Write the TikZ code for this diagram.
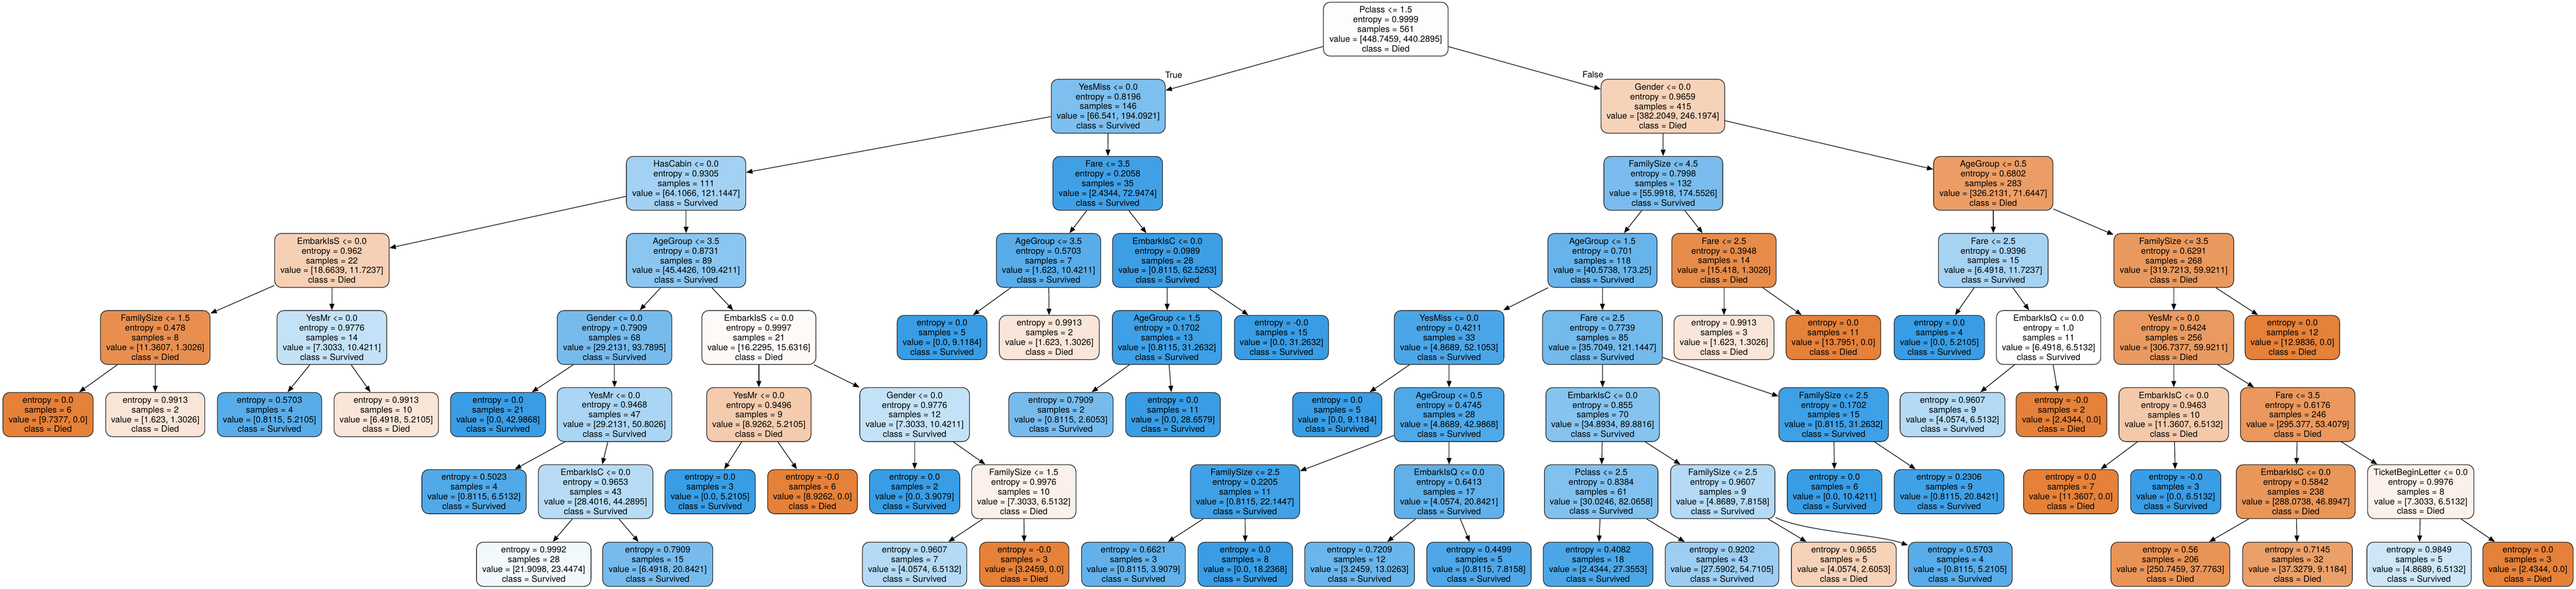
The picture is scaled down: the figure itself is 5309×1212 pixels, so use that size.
\documentclass[tikz,border=0pt]{standalone}
\usepackage{fontspec}
\setmainfont{TeX Gyre Heros}
\usetikzlibrary{arrows.meta}
\definecolor{died}{RGB}{229,129,57}
\definecolor{surv}{RGB}{57,157,229}
\newcommand\treefont{\fontsize{17.9}{20}\selectfont}
\newcommand\itxt[6]{#1\\entropy = #2\\samples = #3\\value = [#4, #5]\\class = #6}
\newcommand\ltxt[5]{entropy = #1\\samples = #2\\value = [#3, #4]\\class = #5}
\tikzset{
  tbox/.style={draw=black!85, line width=1.4pt, rounded corners=14pt, align=center, inner sep=0pt, font=\treefont, minimum height=111pt},
  lbox/.style={tbox, minimum height=91pt},
  conn/.style={-{Triangle[length=13pt,width=10pt]}, line width=1.3pt},
  elabel/.style={font=\treefont, inner sep=0pt},
}
\begin{document}
\begin{tikzpicture}[x=1pt,y=-1pt]
\useasboundingbox (0,0) rectangle (5309,1212);
\fill[white] (0,0) rectangle (5309,1212);
% row 0
\node[tbox, minimum width=257pt, fill=died!1.9] (n0) at (2856,60) {\itxt{Pclass <= 1.5}{0.9999}{561}{448.7459}{440.2895}{Died}};
% row 1
\node[tbox, minimum width=235pt, fill=surv!65.7] (n1) at (2284,218.7) {\itxt{YesMiss <= 0.0}{0.8196}{146}{66.541}{194.0921}{Survived}};
\node[tbox, minimum width=255pt, fill=died!35.6] (n2) at (3427,218.7) {\itxt{Gender <= 0.0}{0.9659}{415}{382.2049}{246.1974}{Died}};
% row 2
\node[tbox, minimum width=246pt, fill=surv!47.1] (n3) at (1414,377.4) {\itxt{HasCabin <= 0.0}{0.9305}{111}{64.1066}{121.1447}{Survived}};
\node[tbox, minimum width=226pt, fill=surv!96.7] (n4) at (2283,377.4) {\itxt{Fare <= 3.5}{0.2058}{35}{2.4344}{72.9474}{Survived}};
\node[tbox, minimum width=245pt, fill=surv!67.9] (n5) at (3428,377.4) {\itxt{FamilySize <= 4.5}{0.7998}{132}{55.9918}{174.5526}{Survived}};
\node[tbox, minimum width=246pt, fill=died!78.0] (n6) at (4108,377.4) {\itxt{AgeGroup <= 0.5}{0.6802}{283}{326.2131}{71.6447}{Died}};
% row 3
\node[tbox, minimum width=236pt, fill=died!37.2] (n7) at (684,536.1) {\itxt{EmbarkIsS <= 0.0}{0.962}{22}{18.6639}{11.7237}{Died}};
\node[tbox, minimum width=246pt, fill=surv!58.5] (n8) at (1414,536.1) {\itxt{AgeGroup <= 3.5}{0.8731}{89}{45.4426}{109.4211}{Survived}};
\node[tbox, minimum width=215pt, fill=surv!84.4] (n9) at (2161,536.1) {\itxt{AgeGroup <= 3.5}{0.5703}{7}{1.623}{10.4211}{Survived}};
\node[tbox, minimum width=226pt, fill=surv!98.7] (n10) at (2406,536.1) {\itxt{EmbarkIsC <= 0.0}{0.0989}{28}{0.8115}{62.5263}{Survived}};
\node[tbox, minimum width=225pt, fill=surv!76.6] (n11) at (3302.5,536.1) {\itxt{AgeGroup <= 1.5}{0.701}{118}{40.5738}{173.25}{Survived}};
\node[tbox, minimum width=215pt, fill=died!91.6] (n12) at (3553,536.1) {\itxt{Fare <= 2.5}{0.3948}{14}{15.418}{1.3026}{Died}};
\node[tbox, minimum width=226pt, fill=surv!44.6] (n13) at (4108,536.1) {\itxt{Fare <= 2.5}{0.9396}{15}{6.4918}{11.7237}{Survived}};
\node[tbox, minimum width=247pt, fill=died!81.3] (n14) at (4480,536.1) {\itxt{FamilySize <= 3.5}{0.6291}{268}{319.7213}{59.9211}{Died}};
% row 4
\node[tbox, minimum width=226pt, fill=died!88.5] (n15) at (320,694.8) {\itxt{FamilySize <= 1.5}{0.478}{8}{11.3607}{1.3026}{Died}};
\node[tbox, minimum width=226pt, fill=surv!29.9] (n16) at (684,694.8) {\itxt{YesMr <= 0.0}{0.9776}{14}{7.3033}{10.4211}{Survived}};
\node[tbox, minimum width=236pt, fill=surv!68.9] (n17) at (1266.5,694.8) {\itxt{Gender <= 0.0}{0.7909}{68}{29.2131}{93.7895}{Survived}};
\node[tbox, minimum width=235pt, fill=died!3.7] (n18) at (1564,694.8) {\itxt{EmbarkIsS <= 0.0}{0.9997}{21}{16.2295}{15.6316}{Died}};
\node[lbox, minimum width=185pt, fill=surv] (n19) at (1941.5,694.8) {\ltxt{0.0}{5}{0.0}{9.1184}{Survived}};
\node[lbox, minimum width=206pt, fill=died!19.7] (n20) at (2162.5,694.8) {\ltxt{0.9913}{2}{1.623}{1.3026}{Died}};
\node[tbox, minimum width=225pt, fill=surv!97.4] (n21) at (2405,694.8) {\itxt{AgeGroup <= 1.5}{0.1702}{13}{0.8115}{31.2632}{Survived}};
\node[lbox, minimum width=194pt, fill=surv] (n22) at (2641,694.8) {\ltxt{-0.0}{15}{0.0}{31.2632}{Survived}};
\node[tbox, minimum width=226pt, fill=surv!90.7] (n23) at (2986.5,694.8) {\itxt{YesMiss <= 0.0}{0.4211}{33}{4.8689}{52.1053}{Survived}};
\node[tbox, minimum width=247pt, fill=surv!70.5] (n24) at (3302.5,694.8) {\itxt{Fare <= 2.5}{0.7739}{85}{35.7049}{121.1447}{Survived}};
\node[lbox, minimum width=206pt, fill=died!19.7] (n25) at (3553,694.8) {\ltxt{0.9913}{3}{1.623}{1.3026}{Died}};
\node[lbox, minimum width=195pt, fill=died] (n26) at (3778.5,694.8) {\ltxt{0.0}{11}{13.7951}{0.0}{Died}};
\node[lbox, minimum width=186pt, fill=surv] (n27) at (3997,694.8) {\ltxt{0.0}{4}{0.0}{5.2105}{Survived}};
\node[tbox, minimum width=215pt, fill=surv!0.3] (n28) at (4222,694.8) {\itxt{EmbarkIsQ <= 0.0}{1.0}{11}{6.4918}{6.5132}{Survived}};
\node[tbox, minimum width=247pt, fill=died!80.5] (n29) at (4480,694.8) {\itxt{YesMr <= 0.0}{0.6424}{256}{306.7377}{59.9211}{Died}};
\node[lbox, minimum width=195pt, fill=died] (n30) at (4724.5,694.8) {\ltxt{0.0}{12}{12.9836}{0.0}{Died}};
% row 5
\node[lbox, minimum width=186pt, fill=died] (n31) at (99,853.5) {\ltxt{0.0}{6}{9.7377}{0.0}{Died}};
\node[lbox, minimum width=204pt, fill=died!19.7] (n32) at (320,853.5) {\ltxt{0.9913}{2}{1.623}{1.3026}{Died}};
\node[lbox, minimum width=215pt, fill=surv!84.4] (n33) at (555.5,853.5) {\ltxt{0.5703}{4}{0.8115}{5.2105}{Survived}};
\node[lbox, minimum width=215pt, fill=died!19.7] (n34) at (796,853.5) {\ltxt{0.9913}{10}{6.4918}{5.2105}{Died}};
\node[lbox, minimum width=196pt, fill=surv] (n35) at (1026.5,853.5) {\ltxt{0.0}{21}{0.0}{42.9868}{Survived}};
\node[tbox, minimum width=236pt, fill=surv!42.5] (n36) at (1266.5,853.5) {\itxt{YesMr <= 0.0}{0.9468}{47}{29.2131}{50.8026}{Survived}};
\node[tbox, minimum width=215pt, fill=died!41.6] (n37) at (1564,853.5) {\itxt{YesMr <= 0.0}{0.9496}{9}{8.9262}{5.2105}{Died}};
\node[tbox, minimum width=226pt, fill=surv!29.9] (n38) at (1885,853.5) {\itxt{Gender <= 0.0}{0.9776}{12}{7.3033}{10.4211}{Survived}};
\node[lbox, minimum width=215pt, fill=surv!68.9] (n39) at (2186.5,853.5) {\ltxt{0.7909}{2}{0.8115}{2.6053}{Survived}};
\node[lbox, minimum width=195pt, fill=surv] (n40) at (2417.5,853.5) {\ltxt{0.0}{11}{0.0}{28.6579}{Survived}};
\node[lbox, minimum width=184pt, fill=surv] (n41) at (2756,853.5) {\ltxt{0.0}{5}{0.0}{9.1184}{Survived}};
\node[tbox, minimum width=226pt, fill=surv!88.7] (n42) at (2986.5,853.5) {\itxt{AgeGroup <= 0.5}{0.4745}{28}{4.8689}{42.9868}{Survived}};
\node[tbox, minimum width=234pt, fill=surv!61.2] (n43) at (3303,853.5) {\itxt{EmbarkIsC <= 0.0}{0.855}{70}{34.8934}{89.8816}{Survived}};
\node[tbox, minimum width=226pt, fill=surv!97.4] (n44) at (3779,853.5) {\itxt{FamilySize <= 2.5}{0.1702}{15}{0.8115}{31.2632}{Survived}};
\node[lbox, minimum width=216pt, fill=surv!37.7] (n45) at (4024,853.5) {\ltxt{0.9607}{9}{4.0574}{6.5132}{Survived}};
\node[lbox, minimum width=187pt, fill=died] (n46) at (4248.5,853.5) {\ltxt{-0.0}{2}{2.4344}{0.0}{Died}};
\node[tbox, minimum width=226pt, fill=died!42.7] (n47) at (4480,853.5) {\itxt{EmbarkIsC <= 0.0}{0.9463}{10}{11.3607}{6.5132}{Died}};
\node[tbox, minimum width=236pt, fill=died!81.9] (n48) at (4735.5,853.5) {\itxt{Fare <= 3.5}{0.6176}{246}{295.377}{53.4079}{Died}};
% row 6
\node[lbox, minimum width=215pt, fill=surv!87.5] (n49) at (977,1012.2) {\ltxt{0.5023}{4}{0.8115}{6.5132}{Survived}};
\node[tbox, minimum width=236pt, fill=surv!35.9] (n50) at (1227.5,1012.2) {\itxt{EmbarkIsC <= 0.0}{0.9653}{43}{28.4016}{44.2895}{Survived}};
\node[lbox, minimum width=186pt, fill=surv] (n51) at (1463.5,1012.2) {\ltxt{0.0}{3}{0.0}{5.2105}{Survived}};
\node[lbox, minimum width=185pt, fill=died] (n52) at (1674.5,1012.2) {\ltxt{-0.0}{6}{8.9262}{0.0}{Died}};
\node[lbox, minimum width=186pt, fill=surv] (n53) at (1885,1012.2) {\ltxt{0.0}{2}{0.0}{3.9079}{Survived}};
\node[tbox, minimum width=215pt, fill=died!10.8] (n54) at (2110,1012.2) {\itxt{FamilySize <= 1.5}{0.9976}{10}{7.3033}{6.5132}{Died}};
\node[tbox, minimum width=225pt, fill=surv!96.3] (n55) at (2566,1012.2) {\itxt{FamilySize <= 2.5}{0.2205}{11}{0.8115}{22.1447}{Survived}};
\node[tbox, minimum width=226pt, fill=surv!80.5] (n56) at (2986.5,1012.2) {\itxt{EmbarkIsQ <= 0.0}{0.6413}{17}{4.0574}{20.8421}{Survived}};
\node[tbox, minimum width=234pt, fill=surv!63.4] (n57) at (3300,1012.2) {\itxt{Pclass <= 2.5}{0.8384}{61}{30.0246}{82.0658}{Survived}};
\node[tbox, minimum width=215pt, fill=surv!37.7] (n58) at (3550.5,1012.2) {\itxt{FamilySize <= 2.5}{0.9607}{9}{4.8689}{7.8158}{Survived}};
\node[lbox, minimum width=195pt, fill=surv] (n59) at (3781,1012.2) {\ltxt{0.0}{6}{0.0}{10.4211}{Survived}};
\node[lbox, minimum width=226pt, fill=surv!96.1] (n60) at (4017,1012.2) {\ltxt{0.2306}{9}{0.8115}{20.8421}{Survived}};
\node[lbox, minimum width=195pt, fill=died] (n61) at (4268,1012.2) {\ltxt{0.0}{7}{11.3607}{0.0}{Died}};
\node[lbox, minimum width=186pt, fill=surv] (n62) at (4484,1012.2) {\ltxt{-0.0}{3}{0.0}{6.5132}{Survived}};
\node[tbox, minimum width=245pt, fill=died!83.7] (n63) at (4731.5,1012.2) {\itxt{EmbarkIsC <= 0.0}{0.5842}{238}{288.0738}{46.8947}{Died}};
\node[tbox, minimum width=219pt, fill=died!10.8] (n64) at (4989,1012.2) {\itxt{TicketBeginLetter <= 0.0}{0.9976}{8}{7.3033}{6.5132}{Died}};
% row 7
\node[lbox, minimum width=236pt, fill=surv!6.6] (n65) at (1100,1161.7) {\ltxt{0.9992}{28}{21.9098}{23.4474}{Survived}};
\node[lbox, minimum width=227pt, fill=surv!68.9] (n66) at (1355.5,1161.7) {\ltxt{0.7909}{15}{6.4918}{20.8421}{Survived}};
\node[lbox, minimum width=215pt, fill=surv!37.7] (n67) at (1885,1161.7) {\ltxt{0.9607}{7}{4.0574}{6.5132}{Survived}};
\node[lbox, minimum width=184pt, fill=died] (n68) at (2111,1161.7) {\ltxt{-0.0}{3}{3.2459}{0.0}{Died}};
\node[lbox, minimum width=214pt, fill=surv!79.2] (n69) at (2336,1161.7) {\ltxt{0.6621}{3}{0.8115}{3.9079}{Survived}};
\node[lbox, minimum width=195pt, fill=surv] (n70) at (2566.5,1161.7) {\ltxt{0.0}{8}{0.0}{18.2368}{Survived}};
\node[lbox, minimum width=226pt, fill=surv!75.1] (n71) at (2802,1161.7) {\ltxt{0.7209}{12}{3.2459}{13.0263}{Survived}};
\node[lbox, minimum width=215pt, fill=surv!89.6] (n72) at (3048,1161.7) {\ltxt{0.4499}{5}{0.8115}{7.8158}{Survived}};
\node[lbox, minimum width=226pt, fill=surv!91.1] (n73) at (3293.5,1161.7) {\ltxt{0.4082}{18}{2.4344}{27.3553}{Survived}};
\node[lbox, minimum width=234pt, fill=surv!49.6] (n74) at (3549,1161.7) {\ltxt{0.9202}{43}{27.5902}{54.7105}{Survived}};
\node[lbox, minimum width=216pt, fill=died!35.8] (n75) at (3800,1161.7) {\ltxt{0.9655}{5}{4.0574}{2.6053}{Died}};
\node[lbox, minimum width=214pt, fill=surv!84.4] (n76) at (4040,1161.7) {\ltxt{0.5703}{4}{0.8115}{5.2105}{Survived}};
\node[lbox, minimum width=245pt, fill=died!84.9] (n77) at (4473,1161.7) {\ltxt{0.56}{206}{250.7459}{37.7763}{Died}};
\node[lbox, minimum width=226pt, fill=died!75.6] (n78) at (4735,1161.7) {\ltxt{0.7145}{32}{37.3279}{9.1184}{Died}};
\node[lbox, minimum width=215pt, fill=surv!25.2] (n79) at (4985.5,1161.7) {\ltxt{0.9849}{5}{4.8689}{6.5132}{Survived}};
\node[lbox, minimum width=186pt, fill=died] (n80) at (5210,1161.7) {\ltxt{0.0}{3}{2.4344}{0.0}{Died}};
% edge labels
\node[elabel] (tl) at (2419,155) {True};
\node[elabel] (fl) at (3283,153) {False};
% edges
\foreach \p/\c in {n0/n1,n0/n2,n1/n3,n1/n4,n2/n5,n2/n6,n3/n7,n3/n8,n4/n9,n4/n10,n5/n11,n5/n12,n6/n13,n6/n14,
  n7/n15,n7/n16,n8/n17,n8/n18,n9/n19,n9/n20,n10/n21,n10/n22,n11/n23,n11/n24,n12/n25,n12/n26,n13/n27,n13/n28,n14/n29,n14/n30,
  n15/n31,n15/n32,n16/n33,n16/n34,n17/n35,n17/n36,n18/n37,n18/n38,n21/n39,n21/n40,n23/n41,n23/n42,n24/n43,n24/n44,
  n28/n45,n28/n46,n29/n47,n29/n48,n36/n49,n36/n50,n37/n51,n37/n52,n38/n53,n38/n54,n42/n55,n42/n56,n43/n57,n43/n58,
  n44/n59,n44/n60,n47/n61,n47/n62,n48/n63,n48/n64,n50/n65,n50/n66,n54/n67,n54/n68,n55/n69,n55/n70,n56/n71,n56/n72,
  n57/n73,n57/n74,n58/n75,n63/n77,n63/n78,n64/n79,n64/n80}
  {\draw[conn] (\p) -- (\c);}
\draw[conn] (n58) .. controls (3720,1095) and (3870,1100) .. (n76);
\end{tikzpicture}
\end{document}
